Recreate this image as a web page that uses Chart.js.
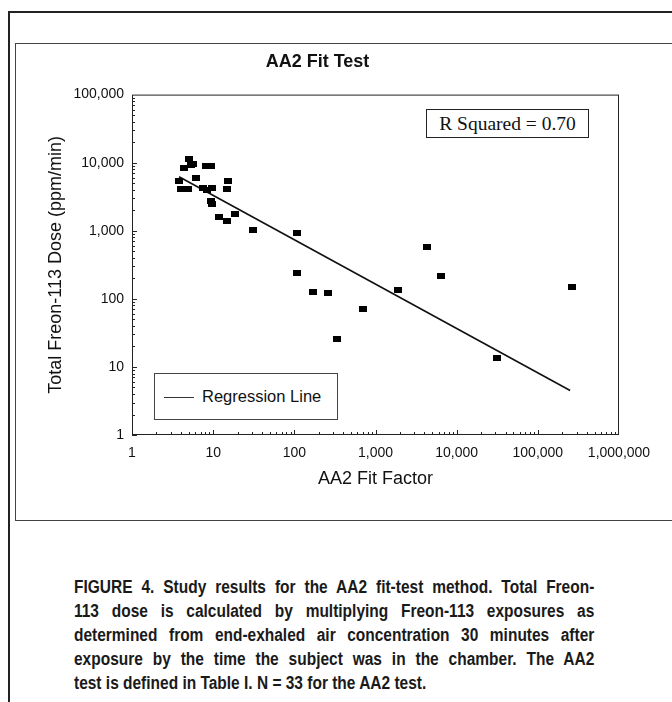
<!DOCTYPE html>
<html>
<head>
<meta charset="utf-8">
<script src="https://cdn.jsdelivr.net/npm/chart.js@4.4.1/dist/chart.umd.min.js"></script>
<style>
  html, body { margin: 0; padding: 0; background: #fff; }
  body { width: 672px; height: 702px; position: relative; overflow: hidden;
         font-family: "Liberation Sans", Arial, sans-serif; color: #111; }
  #outer { position: absolute; left: 8px; top: 11px; width: 700px; height: 720px;
           border-left: 2px solid #222; border-top: 2px solid #222; }
  #panel { position: absolute; left: 15px; top: 43px; width: 700px; height: 476px;
           border: 1px solid #444; }
  #chartBox { position: absolute; left: 16px; top: 44px; }
  #rbox { position: absolute; left: 426px; top: 109px; width: 161px; height: 27px;
          border: 1px solid #222; background: #fff;
          font-family: "Liberation Serif", "Times New Roman", serif; font-size: 19.5px;
          line-height: 27px; text-align: center; }
  #legendBox { position: absolute; left: 154px; top: 373px; width: 182px; height: 45px;
               border: 1px solid #444; background: #fff; }
  #legendBox .swatch { position: absolute; left: 9px; top: 23px; width: 30px; height: 0;
                       border-top: 1px solid #333; }
  #legendBox .label { position: absolute; left: 47px; top: 12px; font-size: 16.5px; line-height: 20px; }
  #caption { position: absolute; left: 74px; top: 575px; width: 605px;
             transform: scaleX(0.86); transform-origin: 0 0;
             font-family: "Liberation Sans", Arial, sans-serif;
             font-weight: bold; font-size: 18px; line-height: 24px; color: #1a1a1a; }
  #caption div { text-align: justify; text-align-last: justify; white-space: nowrap; }
  #caption div.last { text-align-last: left; }
</style>
</head>
<body>
<div id="outer"></div>
<div id="panel"></div>
<div id="chartBox"><canvas id="fitChart" width="656" height="475"></canvas></div>
<div id="rbox">R Squared = 0.70</div>
<div id="legendBox"><div class="swatch"></div><div class="label">Regression Line</div></div>
<div id="caption">
  <div>FIGURE 4. Study results for the AA2 fit-test method. Total Freon-</div>
  <div>113 dose is calculated by multiplying Freon-113 exposures as</div>
  <div>determined from end-exhaled air concentration 30 minutes after</div>
  <div>exposure by the time the subject was in the chamber. The AA2</div>
  <div class="last">test is defined in Table I. N = 33 for the AA2 test.</div>
</div>
<script>
// values (N = 33)
const fitFactor = [5.1, 5.7, 5.4, 4.4, 8.2, 9.3, 6.1, 3.8, 4.0, 4.4, 4.9, 7.6, 8.5, 9.6,
                   15.3, 14.7, 9.3, 9.7, 11.9, 14.7, 18.5, 30.6, 107, 107, 171, 257,
                   694, 337, 1870, 4260, 6340, 260000, 31600];
const freonDose = [11400, 9700, 9300, 8400, 9000, 9000, 6000, 5300, 4100, 4100, 4100, 4300, 4000, 4300,
                   5300, 4150, 2750, 2450, 1570, 1370, 1780, 1010, 940, 240, 127, 120,
                   71, 25.5, 136, 580, 213, 149, 13.7];

// regression line end points
const regressionX = [3.8, 250000];
const regressionY = [6200, 4.5];

const xTickValues = [1, 10, 100, 1000, 10000, 100000, 1000000];
const yTickValues = [1, 10, 100, 1000, 10000, 100000];

const fontFamily = '"Liberation Sans", Arial, sans-serif';

// small black rectangle markers like the original
const marker = document.createElement('canvas');
marker.width = 8;
marker.height = 6;
marker.getContext('2d').fillRect(0, 0, 8, 6);

// frame round the plot and tick marks drawn on the inside
const insideTicks = {
    id: 'insideTicks',
    afterDatasetsDraw(chart) {
        const { ctx, chartArea: a, scales } = chart;
        ctx.save();
        ctx.strokeStyle = '#222';
        ctx.lineWidth = 1;
        ctx.strokeRect(a.left + 0.5, a.top + 0.5, a.right - a.left - 1, a.bottom - a.top - 1);
        ctx.beginPath();
        for (let d = 0; d < 6; d++) {
            for (let k = 1; k <= 9; k++) {
                const px = Math.round(scales.x.getPixelForValue(k * Math.pow(10, d))) + 0.5;
                const len = k === 1 ? 5 : 3;
                ctx.moveTo(px, a.bottom);
                ctx.lineTo(px, a.bottom - len);
            }
        }
        for (let d = 0; d < 5; d++) {
            for (let k = 1; k <= 9; k++) {
                const py = Math.round(scales.y.getPixelForValue(k * Math.pow(10, d))) + 0.5;
                const len = k === 1 ? 5 : 3;
                ctx.moveTo(a.left, py);
                ctx.lineTo(a.left + len, py);
            }
        }
        ctx.stroke();
        ctx.restore();
    }
};

const points = fitFactor.map((x, i) => ({ x: x, y: freonDose[i] }));
const regression = regressionX.map((x, i) => ({ x: x, y: regressionY[i] }));

new Chart(document.getElementById('fitChart').getContext('2d'), {
    type: 'scatter',
    data: {
        datasets: [{
            label: 'AA2',
            data: points,
            pointStyle: marker,
            pointRadius: 4,
            backgroundColor: '#000',
            borderColor: '#000'
        }, {
            label: 'Regression Line',
            data: regression,
            showLine: true,
            pointRadius: 0,
            borderColor: '#111',
            borderWidth: 1.6
        }]
    },
    options: {
        responsive: false,
        animation: false,
        devicePixelRatio: 1,
        layout: { padding: { left: 0, right: 53, top: 0, bottom: 0 } },
        plugins: {
            legend: { display: false },
            tooltip: { enabled: false },
            title: {
                display: true,
                text: 'AA2 Fit Test',
                color: '#111',
                font: { family: fontFamily, size: 18, weight: 'bold' },
                padding: { top: 7, bottom: 22 }
            }
        },
        scales: {
            x: {
                type: 'logarithmic',
                min: 1,
                max: 1000000,
                afterBuildTicks: s => { s.ticks = xTickValues.map(v => ({ value: v })); },
                afterFit: s => { s.height = 84; },
                grid: { display: false, drawTicks: false },
                border: { display: false },
                ticks: {
                    autoSkip: false, maxRotation: 0, padding: 10, color: '#111',
                    font: { family: fontFamily, size: 14 },
                    callback: v => Number(v).toLocaleString('en-US')
                },
                title: {
                    display: true, text: 'AA2 Fit Factor', color: '#111',
                    font: { family: fontFamily, size: 18 },
                    padding: { top: 0, bottom: 29 }
                }
            },
            y: {
                type: 'logarithmic',
                min: 1,
                max: 100000,
                afterBuildTicks: s => { s.ticks = yTickValues.map(v => ({ value: v })); },
                afterFit: s => { s.width = 116; },
                grid: { display: false, drawTicks: false },
                border: { display: false },
                ticks: {
                    autoSkip: false, padding: 8, color: '#111',
                    font: { family: fontFamily, size: 14 },
                    callback: v => Number(v).toLocaleString('en-US')
                },
                title: {
                    display: true, text: 'Total Freon-113 Dose (ppm/min)', color: '#111',
                    font: { family: fontFamily, size: 18 },
                    padding: { top: 29, bottom: 0 }
                }
            }
        }
    },
    plugins: [insideTicks]
});
</script>
</body>
</html>
